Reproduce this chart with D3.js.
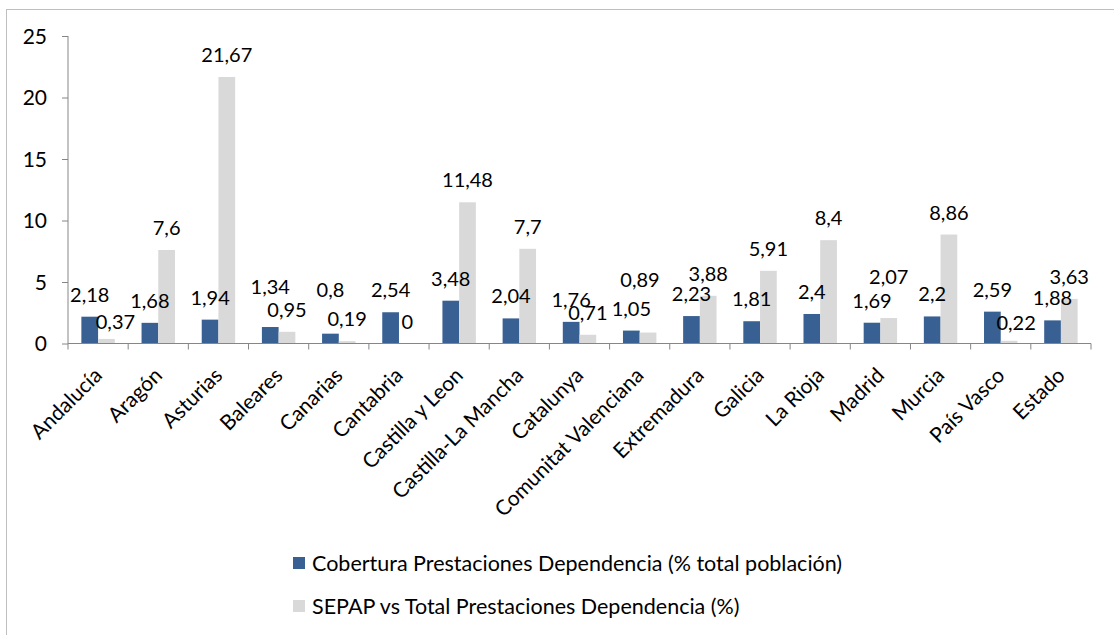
<!DOCTYPE html>
<html><head><meta charset="utf-8">
<script src="https://cdn.jsdelivr.net/npm/d3@7"></script>
<style>body{margin:0;background:#fff}svg{display:block}text{font-family:Lato,"Open Sans",sans-serif;fill:#000}</style>
</head><body><svg id="c" width="1114" height="635"></svg>
<script>
const categories = ["Andalucía","Aragón","Asturias","Baleares","Canarias","Cantabria","Castilla y Leon","Castilla-La Mancha","Catalunya","Comunitat Valenciana","Extremadura","Galicia","La Rioja","Madrid","Murcia","País Vasco","Estado"];
const cobertura = [2.18,1.68,1.94,1.34,0.8,2.54,3.48,2.04,1.76,1.05,2.23,1.81,2.4,1.69,2.2,2.59,1.88];
const sepap = [0.37,7.6,21.67,0.95,0.19,0,11.48,7.7,0.71,0.89,3.88,5.91,8.4,2.07,8.86,0.22,3.63];
const seriesNames = ["Cobertura Prestaciones Dependencia (% total población)","SEPAP vs Total Prestaciones Dependencia (%)"];
const yTicks = [0,5,10,15,20,25];

// label nudges (layout only) keyed "series-index"
const nudge = {"1-0":[9,5],"0-3":[0,-18],"0-4":[0,-22],"1-9":[-8,-31],"1-13":[0,-19],"1-15":[7,4]};

const colors = ["#386093","#D9D9D9"];
const svg = d3.select("#c");
svg.append("rect").attr("x",6.5).attr("y",9.5).attr("width",1200).attr("height",800)
  .attr("fill","none").attr("stroke","#BFBFBF");

const L=68, R=1091, T=36, B=343.5;
const x = d3.scaleBand().domain(categories).range([L,R]).padding(0);
const xs = d3.scaleBand().domain([0,1]).range([0,x.bandwidth()]).paddingInner(0).paddingOuter(0.8);
const y = d3.scaleLinear().domain([0,25]).range([B,T]);

const rows = categories.map((c,i)=>({c, v:[cobertura[i], sepap[i]]}));

const g = svg.append("g");
const grp = g.selectAll("g.grp").data(rows).join("g").attr("transform",d=>`translate(${x(d.c)},0)`);
grp.selectAll("rect").data(d=>d.v.map((v,s)=>({v,s}))).join("rect")
  .attr("x",d=>xs(d.s)).attr("width",xs.bandwidth())
  .attr("y",d=>y(d.v)).attr("height",d=>B-y(d.v)).attr("fill",d=>colors[d.s]);

// axes
const axisColor="#868686";
const yAxis = svg.append("g").attr("transform",`translate(${L},0)`)
  .call(d3.axisLeft(y).tickValues(yTicks).tickSize(6).tickPadding(15).tickFormat(d3.format("d")));
yAxis.select(".domain").attr("stroke",axisColor).attr("d",`M0,${T}V${B}`);
yAxis.selectAll(".tick line").attr("stroke",axisColor);
yAxis.selectAll(".tick text").attr("font-size",21).attr("font-family","Lato").attr("fill","#000").attr("dy","0.35em");

const xAxisG = svg.append("g").attr("transform",`translate(0,${B})`);
xAxisG.append("line").attr("x1",L).attr("x2",R).attr("stroke",axisColor);
const edges = categories.map(c=>x(c)).concat([R]);
xAxisG.selectAll("line.t").data(edges).join("line").attr("class","t")
  .attr("x1",d=>d).attr("x2",d=>d).attr("y1",0).attr("y2",6).attr("stroke",axisColor);
xAxisG.selectAll("text.cat").data(categories).join("text").attr("class","cat")
  .attr("font-size",21).attr("text-anchor","end")
  .attr("transform",c=>`translate(${x(c)+x.bandwidth()/2},${28}) rotate(-45)`)
  .attr("dy","0.35em").text(c=>c);

// data labels
const fmt = v=>String(v).replace(".",",");
grp.selectAll("text.lbl").data((d,i)=>d.v.map((v,s)=>({v,s,i}))).join("text").attr("class","lbl")
  .attr("font-size",20).attr("text-anchor","middle")
  .attr("x",d=>xs(d.s)+xs.bandwidth()/2+((nudge[d.s+"-"+d.i]||[0,0])[0]))
  .attr("y",d=>y(d.v)-22+((nudge[d.s+"-"+d.i]||[0,0])[1]))
  .attr("dy","0.35em").text(d=>fmt(d.v));

// legend
const lg = svg.append("g");
seriesNames.forEach((n,i)=>{
  const yy = 563 + i*43;
  lg.append("rect").attr("x",293).attr("y",yy-6).attr("width",12).attr("height",12).attr("fill",colors[i]);
  lg.append("text").attr("x",312).attr("y",yy).attr("dy","0.35em").attr("font-size",21.5).text(n);
});
</script></body></html>
